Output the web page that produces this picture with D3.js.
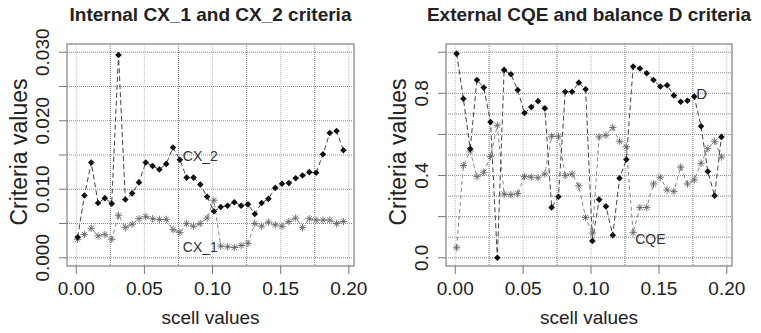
<!DOCTYPE html>
<html>
<head>
<meta charset="utf-8">
<script src="https://cdn.jsdelivr.net/npm/d3@7"></script>
<style>
  body { margin: 0; background: #fff; }
  svg { display: block; font-family: "Liberation Sans", Arial, sans-serif; }
</style>
</head>
<body>
<svg id="chart" width="761" height="333"></svg>
<script>
// scell values (x), same for both panels
var scell = [0.001, 0.006, 0.011, 0.016, 0.021, 0.026, 0.031, 0.036, 0.041, 0.046,
             0.051, 0.056, 0.061, 0.066, 0.071, 0.076, 0.081, 0.086, 0.091, 0.096,
             0.101, 0.106, 0.111, 0.116, 0.121, 0.126, 0.131, 0.136, 0.141, 0.146,
             0.151, 0.156, 0.161, 0.166, 0.171, 0.176, 0.181, 0.186, 0.191, 0.196];

// left panel: internal criteria
var cx2 = [0.0030, 0.0091, 0.0139, 0.0080, 0.0087, 0.0079, 0.0296, 0.0085, 0.0094, 0.0110,
           0.0139, 0.0134, 0.0129, 0.0137, 0.0161, 0.0143, 0.0117, 0.0117, 0.0107, 0.0089,
           0.0068, 0.0074, 0.0076, 0.0081, 0.0076, 0.0078, 0.0064, 0.0080, 0.0086, 0.0102,
           0.0108, 0.0109, 0.0116, 0.0120, 0.0125, 0.0124, 0.0151, 0.0182, 0.0185, 0.0157];
var cx1 = [0.0027, 0.0034, 0.0043, 0.0032, 0.0034, 0.0027, 0.0062, 0.0044, 0.0049, 0.0057,
           0.0060, 0.0057, 0.0056, 0.0056, 0.0041, 0.0037, 0.0050, 0.0046, 0.0050, 0.0058,
           0.0084, 0.0017, 0.0016, 0.0015, 0.0018, 0.0021, 0.0050, 0.0046, 0.0052, 0.0048,
           0.0046, 0.0053, 0.0058, 0.0044, 0.0057, 0.0055, 0.0055, 0.0055, 0.0050, 0.0053];

// right panel: external criteria
var balD = [0.993, 0.774, 0.530, 0.865, 0.828, 0.660, 0.000, 0.914, 0.893, 0.816,
            0.704, 0.733, 0.762, 0.727, 0.245, 0.297, 0.808, 0.808, 0.852, 0.820,
            0.082, 0.283, 0.250, 0.110, 0.387, 0.478, 0.930, 0.921, 0.898, 0.865,
            0.833, 0.839, 0.790, 0.759, 0.764, 0.784, 0.640, 0.420, 0.302, 0.588];
var cqe = [0.049, 0.449, 0.520, 0.395, 0.416, 0.493, 0.645, 0.310, 0.307, 0.313,
           0.395, 0.392, 0.389, 0.408, 0.591, 0.591, 0.400, 0.408, 0.350, 0.196,
           0.120, 0.588, 0.596, 0.634, 0.567, 0.540, 0.122, 0.245, 0.245, 0.359,
           0.392, 0.330, 0.323, 0.441, 0.359, 0.379, 0.460, 0.531, 0.567, 0.490];

var xTicks = [0, 0.05, 0.1, 0.15, 0.2];
var xTickLabels = ["0.00", "0.05", "0.10", "0.15", "0.20"];
var leftYTicks = [0, 0.005, 0.01, 0.015, 0.02, 0.025, 0.03];
var leftYLabels = ["0.000", "", "0.010", "", "0.020", "", "0.030"];
var rightYTicks = [0, 0.2, 0.4, 0.6, 0.8, 1.0];
var rightYLabels = ["0.0", "", "0.4", "", "0.8", ""];

var svg = d3.select("#chart");

// R style 4% padding on a range
function pad(lo, hi) {
  var d = (hi - lo) * 0.04;
  return [lo - d, hi + d];
}

function panel(opt) {
  var box = opt.box;
  var x = d3.scaleLinear().domain(pad(d3.min(scell), d3.max(scell))).range([box.x0, box.x1]);
  var y = d3.scaleLinear().domain(pad(opt.ylim[0], opt.ylim[1])).range([box.y1, box.y0]);
  var g = svg.append("g");

  // grid
  var vg = d3.range(0, 0.2001, 0.025);
  g.selectAll(".vg").data(vg).enter().append("line")
    .attr("x1", d => x(d)).attr("x2", d => x(d))
    .attr("y1", box.y0).attr("y2", box.y1)
    .attr("stroke", (d, i) => i % 2 ? "#777" : "#bbb")
    .attr("stroke-width", 1).attr("stroke-dasharray", "1,1");
  g.selectAll(".hg").data(opt.hgrid).enter().append("line")
    .attr("x1", box.x0).attr("x2", box.x1)
    .attr("y1", d => y(d)).attr("y2", d => y(d))
    .attr("stroke", "#888").attr("stroke-width", 1).attr("stroke-dasharray", "1,1");

  // lines + points
  var line = d3.line().x((d, i) => x(scell[i])).y(d => y(d));
  g.append("path").datum(opt.star).attr("d", line)
    .attr("fill", "none").attr("stroke", "#888").attr("stroke-width", 1)
    .attr("stroke-dasharray", "4,3");
  g.append("path").datum(opt.diam).attr("d", line)
    .attr("fill", "none").attr("stroke", "#444").attr("stroke-width", 1)
    .attr("stroke-dasharray", "5,3");

  var s = 3.7;
  g.selectAll(".st").data(opt.star).enter().append("path")
    .attr("transform", (d, i) => "translate(" + x(scell[i]) + "," + y(d) + ")")
    .attr("d", "M" + (-s) + ",0H" + s + "M0," + (-s) + "V" + s +
               "M" + (-s * 0.7) + "," + (-s * 0.7) + "L" + (s * 0.7) + "," + (s * 0.7) +
               "M" + (-s * 0.7) + "," + (s * 0.7) + "L" + (s * 0.7) + "," + (-s * 0.7))
    .attr("stroke", "#666").attr("stroke-width", 0.9).attr("fill", "none");
  var r = 3.3;
  g.selectAll(".dm").data(opt.diam).enter().append("path")
    .attr("transform", (d, i) => "translate(" + x(scell[i]) + "," + y(d) + ")")
    .attr("d", "M0," + (-r) + "L" + r + ",0L0," + r + "L" + (-r) + ",0Z")
    .attr("fill", "#111");

  // box
  g.append("rect").attr("x", box.x0).attr("y", box.y0)
    .attr("width", box.x1 - box.x0).attr("height", box.y1 - box.y0)
    .attr("fill", "none").attr("stroke", "#999").attr("stroke-width", 1.5);

  // x axis
  g.selectAll(".xt").data(xTicks).enter().append("line")
    .attr("x1", d => x(d)).attr("x2", d => x(d))
    .attr("y1", box.y1).attr("y2", box.y1 + 8)
    .attr("stroke", "#777");
  g.selectAll(".xl").data(xTicks).enter().append("text")
    .attr("x", d => x(d)).attr("y", 295)
    .attr("text-anchor", "middle").attr("font-size", 19).attr("fill", "#222")
    .text((d, i) => xTickLabels[i]);

  // y axis
  g.selectAll(".yt").data(opt.yticks).enter().append("line")
    .attr("x1", box.x0 - 8).attr("x2", box.x0)
    .attr("y1", d => y(d)).attr("y2", d => y(d))
    .attr("stroke", "#777");
  g.selectAll(".yl").data(opt.yticks).enter().append("text")
    .attr("transform", d => "translate(" + (box.x0 - 18) + "," + y(d) + ") rotate(-90)")
    .attr("text-anchor", "middle").attr("font-size", 19).attr("fill", "#222")
    .text((d, i) => opt.ylabels[i]);

  // titles
  var cx = (box.x0 + box.x1) / 2;
  g.append("text").attr("x", cx).attr("y", 21)
    .attr("text-anchor", "middle").attr("font-size", 19).attr("font-weight", "bold")
    .attr("fill", "#222").text(opt.title);
  g.append("text").attr("x", cx).attr("y", 324)
    .attr("text-anchor", "middle").attr("font-size", 19).attr("fill", "#222")
    .text("scell values");
  g.append("text")
    .attr("transform", "translate(" + (box.x0 - 40) + "," + ((box.y0 + box.y1) / 2 - 3) + ") rotate(-90)")
    .attr("text-anchor", "middle").attr("font-size", 23).attr("fill", "#222")
    .text("Criteria values");

  // series labels
  opt.labels.forEach(function (l) {
    g.append("text").attr("x", x(scell[l.i]) + l.dx).attr("y", y(l.v) + l.dy)
      .attr("font-size", l.size).attr("fill", "#333").text(l.text);
  });
}

panel({
  box: { x0: 67, x1: 354, y0: 44, y1: 266 },
  ylim: [0, 0.03],
  hgrid: leftYTicks,
  yticks: leftYTicks, ylabels: leftYLabels,
  diam: cx2, star: cx1,
  title: "Internal CX_1 and CX_2 criteria",
  labels: [
    { text: "CX_2", i: 15, v: 0.0143, dx: 3, dy: 1, size: 14 },
    { text: "CX_1", i: 15, v: 0.0016, dx: 3, dy: 5, size: 14 }
  ]
});

panel({
  box: { x0: 446, x1: 732, y0: 44, y1: 266 },
  ylim: [0, 1],
  hgrid: d3.range(0, 1.001, 0.1),
  yticks: rightYTicks, ylabels: rightYLabels,
  diam: balD, star: cqe,
  title: "External CQE and balance D criteria",
  labels: [
    { text: "D", i: 35, v: 0.784, dx: 2, dy: 2, size: 15 },
    { text: "CQE", i: 26, v: 0.122, dx: 2, dy: 11, size: 14 }
  ]
});
</script>
</body>
</html>
